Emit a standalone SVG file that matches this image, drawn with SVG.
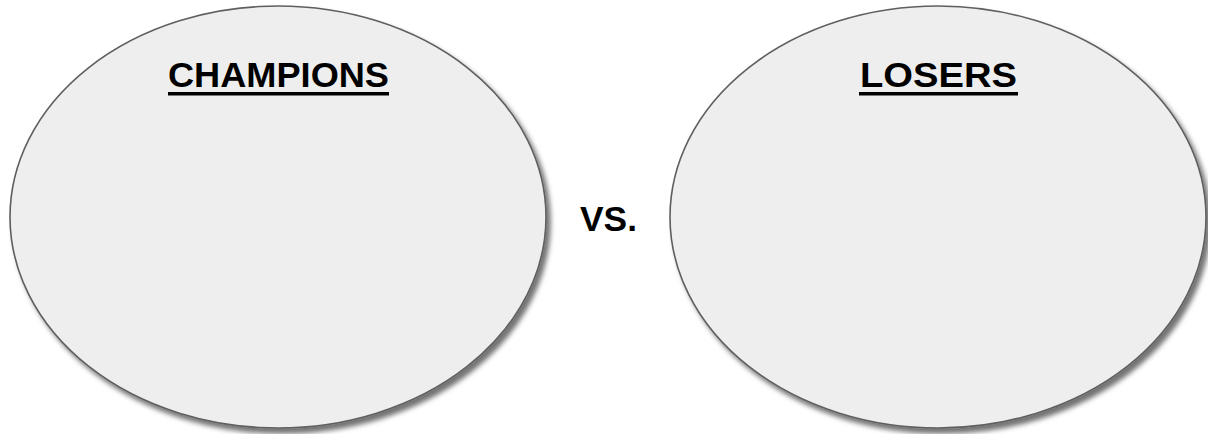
<svg xmlns="http://www.w3.org/2000/svg" width="1208" height="434" viewBox="0 0 1208 434">
<defs>
<filter id="sh" x="-10%" y="-10%" width="125%" height="125%">
<feDropShadow dx="4" dy="5" stdDeviation="2.5" flood-color="#000" flood-opacity="0.55"/>
</filter>
</defs>
<style>
.ell{fill:#eeeeee;stroke:#5f5f5f;stroke-width:1.6;filter:url(#sh)}
.t{font-family:"Liberation Sans",Arial,sans-serif;font-weight:bold;font-size:35px;fill:#000}
.u{fill:#000}
</style>
<rect width="1208" height="434" fill="#fff"/>
<g id="champions">
<ellipse class="ell" cx="278" cy="217" rx="268" ry="211"/>
<text class="t" x="168" y="87" textLength="221" lengthAdjust="spacingAndGlyphs">CHAMPIONS</text>
<rect class="u" x="168" y="92" width="221" height="3.5"/>
</g>
<g id="losers">
<ellipse class="ell" cx="938" cy="217" rx="268" ry="211"/>
<text class="t" x="860" y="87" textLength="157" lengthAdjust="spacingAndGlyphs">LOSERS</text>
<rect class="u" x="859" y="92" width="159" height="3.5"/>
</g>
<g id="vs">
<text class="t" x="580" y="231" textLength="57" lengthAdjust="spacingAndGlyphs">VS.</text>
</g>
<g id="connectors"/>
</svg>
